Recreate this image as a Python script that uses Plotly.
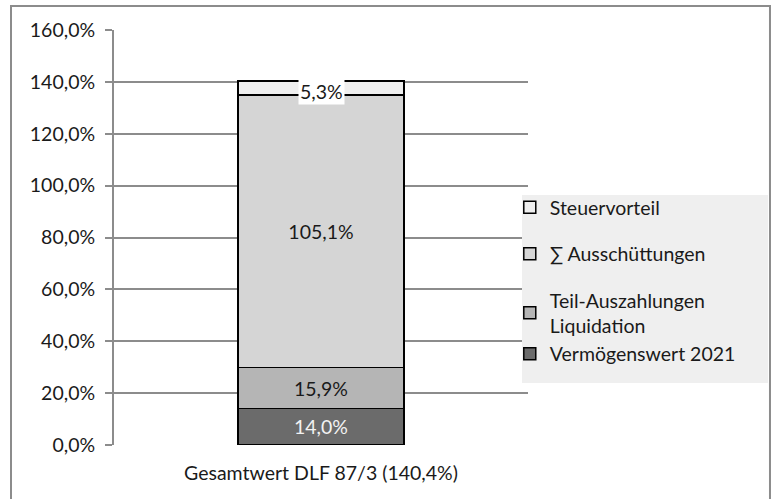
import plotly.graph_objects as go

categories = ["Gesamtwert DLF 87/3 (140,4%)"]
series_names = ["Vermögenswert 2021", "Teil-Auszahlungen<br>Liquidation", "∑ Ausschüttungen", "Steuervorteil"]
series_values = [[14.0], [15.9], [105.1], [5.3]]
series_colors = ["#6b6b6b", "#b5b5b5", "#d5d5d5", "#efefef"]
label_colors = ["#f2f2f2", "#1a1a1a", "#1a1a1a", "#1a1a1a"]
legend_groups = ["gA", "gA", "gB", "gC"]

FONT = "Lato"
FS = 19.5

def fmt(v):
    return f"{v:.1f}%".replace(".", ",")

fig = go.Figure()
n = len(series_names)
for i, (name, vals, col) in enumerate(zip(series_names, series_values, series_colors)):
    show_text = i < 3
    fig.add_trace(go.Bar(
        x=categories, y=vals, name=name,
        marker=dict(color=col, line=dict(color="#000000", width=1.5)),
        text=[fmt(v) for v in vals] if show_text else None,
        textposition="inside", insidetextanchor="middle",
        textfont=dict(color=label_colors[i], size=FS, family=FONT),
        legendgroup=legend_groups[i], legendrank=n - i, width=0.4,
        hoverinfo="skip",
    ))

# label for the thin top segment
base = sum(v[0] for v in series_values[:3])
top = series_values[3][0]
fig.add_annotation(x=categories[0], y=base + top / 2 - 1.2, text=fmt(top),
                   showarrow=False, bgcolor="#ffffff", borderpad=1,
                   font=dict(color="#1a1a1a", size=FS, family=FONT))

fig.update_layout(
    barmode="stack",
    width=776, height=499,
    margin=dict(l=114, r=248, t=30, b=54),
    paper_bgcolor="#ffffff", plot_bgcolor="#ffffff",
    separators=",.",
    font=dict(family=FONT, size=FS, color="#1a1a1a"),
    showlegend=True,
    legend=dict(x=0.956, xanchor="left", y=0.619, yanchor="top",
                traceorder="grouped", tracegroupgap=18,
                bgcolor="rgba(0,0,0,0)", font=dict(size=FS, family=FONT, color="#1a1a1a")),
    shapes=[
        dict(type="rect", xref="paper", yref="paper", x0=-0.2488, x1=1.5845, y0=-0.2, y1=1.0578,
             line=dict(color="#8c8c8c", width=2), fillcolor="rgba(0,0,0,0)", layer="above"),
        dict(type="rect", xref="paper", yref="paper", x0=0.9855, x1=1.5797, y0=0.1494, y1=0.6024,
             line=dict(width=0), fillcolor="#efefef", layer="above"),
    ],
)
fig.update_yaxes(range=[0, 160], dtick=20, tickformat=".1f", ticksuffix="%",
                 showgrid=True, gridcolor="#8c8c8c", gridwidth=2,
                 showline=True, linecolor="#8c8c8c", linewidth=2,
                 ticks="outside", ticklen=7, tickcolor="#8c8c8c", tickwidth=2,
                 ticklabelstandoff=6,
                 zeroline=False, tickfont=dict(size=FS, color="#1a1a1a"))
fig.update_xaxes(showline=False, ticks="", ticklabelstandoff=14,
                 tickfont=dict(size=FS, color="#1a1a1a"))

fig.write_html("out.html", config={"displayModeBar": False},
               post_script="document.body.style.margin='0';")
